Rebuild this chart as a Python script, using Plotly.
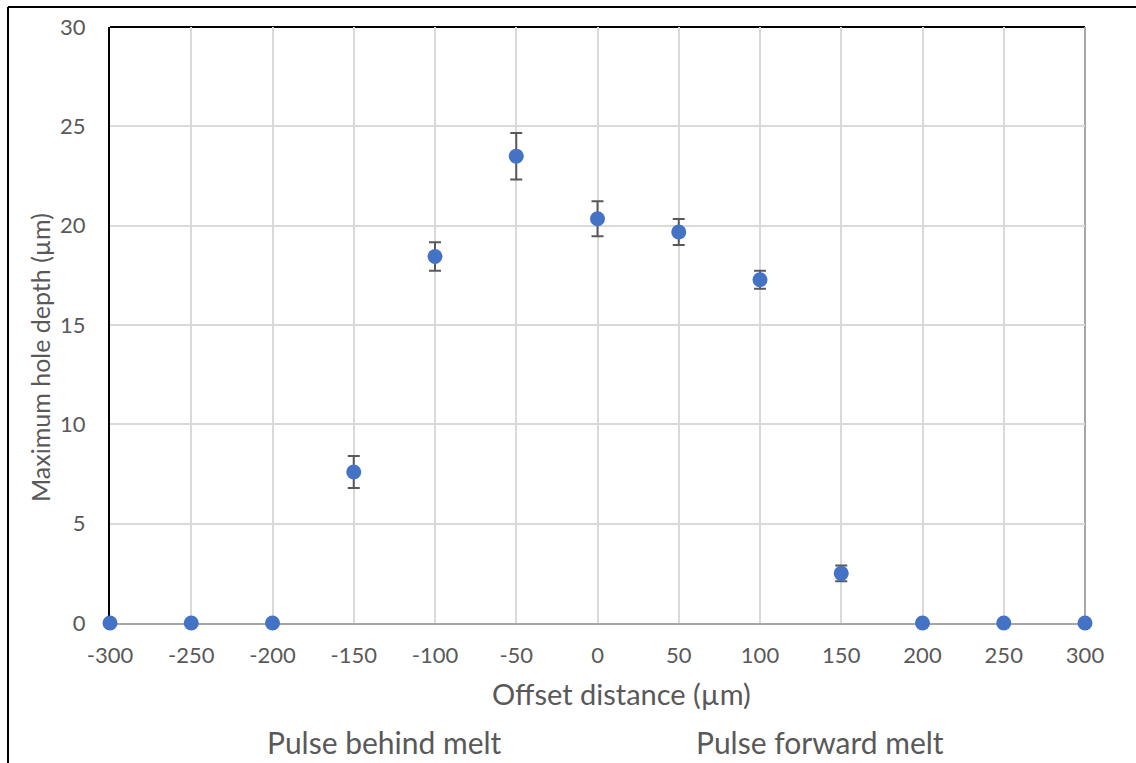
import plotly.graph_objects as go

# Offset distance (µm) and measured maximum hole depth (µm) with error
offset = [-300, -250, -200, -150, -100, -50, 0, 50, 100, 150, 200, 250, 300]
depth = [0, 0, 0, 7.6, 18.45, 23.5, 20.35, 19.68, 17.28, 2.5, 0, 0, 0]
depth_err = [0, 0, 0, 0.8, 0.72, 1.17, 0.88, 0.65, 0.45, 0.4, 0, 0, 0]

x_ticks = list(range(-300, 301, 50))
y_ticks = list(range(0, 31, 5))

W, H = 1136, 763
L, R, T, B = 110, 51, 27, 140
pw, ph = W - L - R, H - T - B

TEXT = "#595959"
FONT = "Lato, 'Open Sans', sans-serif"

fig = go.Figure()
fig.add_trace(go.Scatter(
    x=offset, y=depth, mode="markers",
    marker=dict(size=15, color="#4472C4"),
    error_y=dict(type="data", array=depth_err, visible=True,
                 color="#595959", thickness=2, width=6),
    showlegend=False, cliponaxis=False,
))


def px_x(p):
    return (p - L) / pw


def px_y(p):
    return (H - B - p) / ph


def label(text, x, y, size, angle=0):
    return dict(text=text, xref="paper", yref="paper", x=px_x(x), y=px_y(y),
                xanchor="center", yanchor="middle", textangle=angle,
                showarrow=False, font=dict(size=size, color=TEXT, family=FONT))


shapes = [
    # plot area top and right edges
    dict(type="line", xref="paper", yref="paper", x0=0, x1=1, y0=1, y1=1,
         line=dict(color="black", width=2), layer="below"),
    dict(type="line", xref="paper", yref="paper", x0=1, x1=1, y0=0, y1=1,
         line=dict(color="#A6A6A6", width=2), layer="below"),
    # outer chart frame
    dict(type="line", xref="paper", yref="paper", x0=px_x(8), x1=px_x(1140),
         y0=px_y(7), y1=px_y(7), line=dict(color="black", width=2)),
    dict(type="line", xref="paper", yref="paper", x0=px_x(8), x1=px_x(8),
         y0=px_y(7), y1=px_y(770), line=dict(color="black", width=2)),
]

fig.update_layout(
    width=W, height=H,
    margin=dict(l=L, r=R, t=T, b=B),
    paper_bgcolor="white", plot_bgcolor="white",
    font=dict(family=FONT, color=TEXT),
    shapes=shapes,
    annotations=[
        label("Offset distance (µm)", 621, 693, 29),
        label("Maximum hole depth (µm)", 40, 358, 25, angle=-90),
        label("Pulse behind melt", 384, 742, 30),
        label("Pulse forward melt", 820, 742, 30),
    ],
)

fig.update_xaxes(
    range=[-300, 300], tickvals=x_ticks, ticktext=[str(v) for v in x_ticks],
    showgrid=True, gridcolor="#D9D9D9", gridwidth=2,
    showline=True, linecolor="#A6A6A6", linewidth=2, layer="below traces",
    zeroline=False, ticks="", ticklabelstandoff=12,
    tickfont=dict(size=22, color=TEXT),
)
fig.update_yaxes(
    range=[0, 30], tickvals=y_ticks,
    showgrid=True, gridcolor="#D9D9D9", gridwidth=2,
    showline=True, linecolor="black", linewidth=2, layer="below traces",
    zeroline=False, ticks="", ticklabelstandoff=18,
    tickfont=dict(size=22, color=TEXT),
)

fig.write_html("out.html")
